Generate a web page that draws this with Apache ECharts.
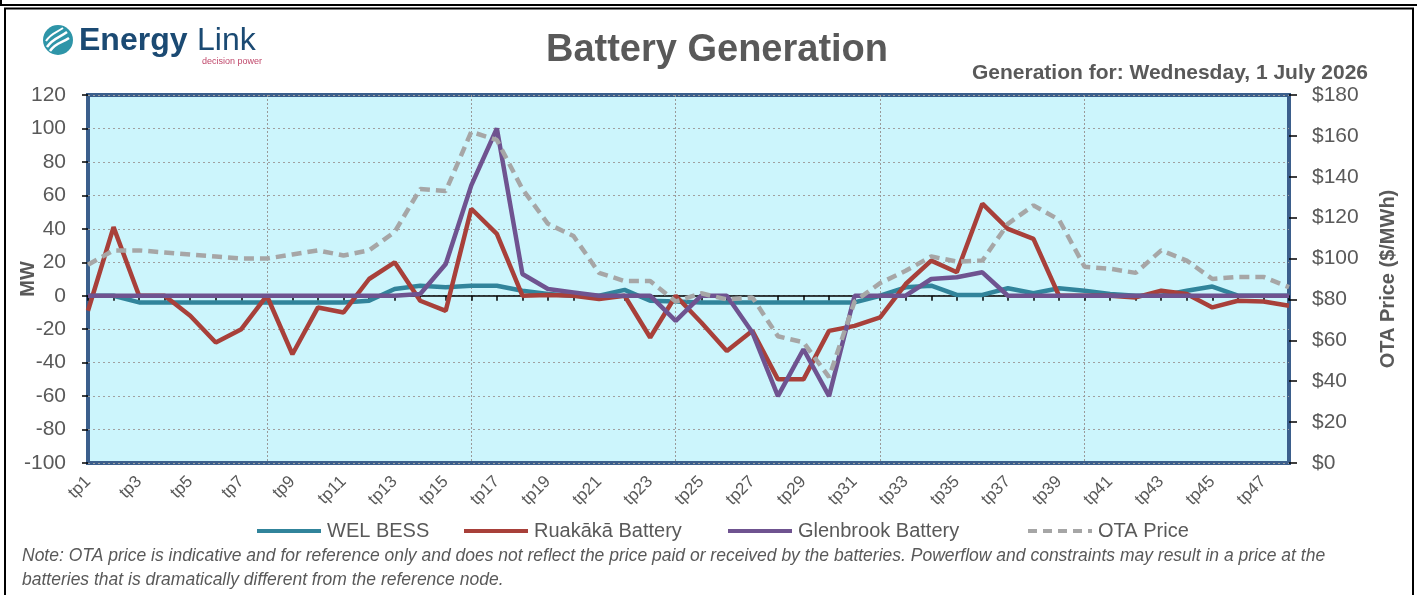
<!DOCTYPE html>
<html>
<head>
<meta charset="utf-8">
<script src="https://cdn.jsdelivr.net/npm/echarts@6/dist/echarts.min.js"></script>
<style>
html,body{margin:0;padding:0;background:#fff;}
#chart{width:1417px;height:595px;}
</style>
</head>
<body>
<div id="chart"></div>
<script>
var categories = ['tp1','tp2','tp3','tp4','tp5','tp6','tp7','tp8','tp9','tp10','tp11','tp12','tp13','tp14','tp15','tp16','tp17','tp18','tp19','tp20','tp21','tp22','tp23','tp24','tp25','tp26','tp27','tp28','tp29','tp30','tp31','tp32','tp33','tp34','tp35','tp36','tp37','tp38','tp39','tp40','tp41','tp42','tp43','tp44','tp45','tp46','tp47','tp48'];

var welBess = [0,0,-4,-4,-4,-4,-4,-4,-4,-4,-4,-3,4,6,5,6,6,3,1,0,0,3.5,-3,-3.5,-4,-4,-4,-4,-4,-4,-4,0,5,6,0.5,0.5,4.5,1.5,4.5,3,1,0,0,3,5.5,0,0,0];

var ruakaka = [-9,41,0,0,-12,-28,-20,0,-35,-7,-10,10,20,-3,-9,52,37,0,0.5,0,-2,0,-25,0,-16,-33,-21,-50,-50,-21,-18,-13,7,21,14,55,40,34,0,0,0,-1,3,1,-7,-3,-3.5,-6];

var glenbrook = [0,0,0,0,0,0,0,0,0,0,0,0,0,1,19,66,100,13,4,2,0,0,0,-15,0,0,-22,-60,-32,-60,0,0,0,10,11,14,0,0,0,0,0,0,0,0,0,0,0,0];

var otaPrice = [97,104,104,103,102,101,100,100,102,104,101.5,104,113,134,133,162,158,134,117,111,93,89,89,79,83,80,81,62,59,42,79,88,94,101,98.5,99,117,126,119,96,95,93,104,99,90,91,91,86];

var seriesNames = ['WEL BESS','Ruakākā Battery','Glenbrook Battery','OTA Price'];
var titleText = 'Battery Generation';
var subtitleText = 'Generation for: Wednesday, 1 July 2026';
var noteLine1 = 'Note: OTA price is indicative and for reference only and does not reflect the price paid or received by the batteries. Powerflow and constraints may result in a price at the';
var noteLine2 = 'batteries that is dramatically different from the reference node.';

var FONT = '"Liberation Sans", Arial, sans-serif';
var GRAY = '#595959';
var SOLID_ICON = 'path://M0,0H64V4H0Z';
var DASH_ICON = 'path://M0,0H9V4H0Z M15,0H24V4H15Z M30,0H39V4H30Z M45,0H54V4H45Z M60,0H64V4H60Z';
var legendLefts = [252, 459, 723, 1023];
var legendIcons = [SOLID_ICON, SOLID_ICON, SOLID_ICON, DASH_ICON];

var chart = echarts.init(document.getElementById('chart'), null, {renderer:'canvas'});

var legends = seriesNames.map(function (n, i) {
  return {
    left: legendLefts[i], top: 516,
    itemWidth: 64, itemHeight: 4,
    textStyle: { fontFamily: FONT, fontSize: 20, color: GRAY, padding: [0,0,0,1] },
    data: [{ name: n, icon: legendIcons[i] }]
  };
});

var option = {
  backgroundColor: '#ffffff',
  animation: false,
  grid: {
    left: 88, right: 128, top: 95, bottom: 132,
    containLabel: false, outerBoundsMode: 'none',
    show: true, backgroundColor: '#CCF5FC', borderColor: '#3B5F8C', borderWidth: 4, z: 0
  },
  legend: legends,
  xAxis: [
    {
      type: 'category', data: categories, boundaryGap: false, position: 'bottom',
      axisLine: { show: false, onZero: false },
      axisTick: { show: false },
      axisLabel: { interval: 1, rotate: 45, margin: 16, fontFamily: FONT, fontSize: 17, color: GRAY },
      splitLine: { show: true, interval: function (i) { return i % 8 === 7 && i < 47; },
        lineStyle: { color: '#999999', type: [2,2], width: 1 } }
    },
    {
      type: 'category', data: categories, boundaryGap: false, position: 'bottom',
      axisLine: { show: true, onZero: true, onZeroAxisIndex: 0, lineStyle: { color: '#000000', width: 1.5 } },
      axisTick: { show: true, interval: 0, length: 5, lineStyle: { color: '#000000', width: 1.5 } },
      axisLabel: { show: false },
      splitLine: { show: false }
    }
  ],
  yAxis: [
    {
      type: 'value', min: -100, max: 120, interval: 20, position: 'left',
      name: 'MW', nameLocation: 'middle', nameGap: 50, nameRotate: 90, nameMoveOverlap: false,
      nameTextStyle: { fontFamily: FONT, fontSize: 20, fontWeight: 'bold', color: GRAY },
      axisLine: { show: false },
      axisTick: { show: true, length: 6, lineStyle: { color: '#000000', width: 1.5 } },
      axisLabel: { margin: 22, fontFamily: FONT, fontSize: 21, color: GRAY },
      splitLine: { show: true, lineStyle: { color: '#A0A0A0', type: [2,3], width: 1 } }
    },
    {
      type: 'value', min: 0, max: 180, interval: 20, position: 'right',
      name: 'OTA Price ($/MWh)', nameLocation: 'middle', nameGap: 89, nameRotate: 90, nameMoveOverlap: false,
      nameTextStyle: { fontFamily: FONT, fontSize: 20, fontWeight: 'bold', color: GRAY },
      axisLine: { show: false },
      axisTick: { show: true, length: 8, lineStyle: { color: '#000000', width: 1.5 } },
      axisLabel: { margin: 23, fontFamily: FONT, fontSize: 21, color: GRAY,
        formatter: function (v) { return '$' + v; } },
      splitLine: { show: false }
    }
  ],
  series: [
    { name: seriesNames[0], type: 'line', data: welBess, xAxisIndex: 0, yAxisIndex: 0, symbol: 'none',
      color: '#31849B', lineStyle: { color: '#31849B', width: 4.5 }, z: 3 },
    { name: seriesNames[1], type: 'line', data: ruakaka, xAxisIndex: 0, yAxisIndex: 0, symbol: 'none',
      color: '#A8403A', lineStyle: { color: '#A8403A', width: 4.5 }, z: 4 },
    { name: seriesNames[2], type: 'line', data: glenbrook, xAxisIndex: 0, yAxisIndex: 0, symbol: 'none',
      color: '#6F5390', lineStyle: { color: '#6F5390', width: 4.5 }, z: 5 },
    { name: seriesNames[3], type: 'line', data: otaPrice, xAxisIndex: 0, yAxisIndex: 1, symbol: 'none',
      color: '#A6A6A6', lineStyle: { color: '#A6A6A6', width: 4.5, type: [10,6] }, z: 6 }
  ],
  graphic: [
    { type: 'line', shape: { x1: 0, y1: 5, x2: 1417, y2: 5 }, style: { stroke: '#000', lineWidth: 2 } },
    { type: 'line', shape: { x1: 1, y1: 0, x2: 1, y2: 5 }, style: { stroke: '#000', lineWidth: 2 } },
    { type: 'rect', shape: { x: 5, y: 8.5, width: 1408, height: 600 }, style: { fill: 'none', stroke: '#000', lineWidth: 2 } },
    { type: 'circle', shape: { cx: 58, cy: 40, r: 15 }, style: { fill: '#2E95A8' } },
    { type: 'bezierCurve', shape: { x1: 47, y1: 47, cpx1: 53, cpy1: 38, x2: 67, y2: 32, cpx2: 59, cpy2: 38 }, style: { stroke: '#fff', lineWidth: 2.5, fill: 'none' } },
    { type: 'bezierCurve', shape: { x1: 50, y1: 51, cpx1: 56, cpy1: 42, x2: 69, y2: 38, cpx2: 62, cpy2: 43 }, style: { stroke: '#fff', lineWidth: 2.5, fill: 'none' } },
    { type: 'bezierCurve', shape: { x1: 46, y1: 41, cpx1: 51, cpy1: 33, x2: 63, y2: 28, cpx2: 56, cpy2: 33 }, style: { stroke: '#fff', lineWidth: 2, fill: 'none' } },
    { type: 'text', left: 79, top: 25, style: { text: 'Energy', font: 'bold 32px ' + FONT, fill: '#1B4A73' } },
    { type: 'text', left: 197, top: 25, style: { text: 'Link', font: '32px ' + FONT, fill: '#1B4A73' } },
    { type: 'text', right: 1417 - 262, top: 57, style: { text: 'decision power', font: '9px ' + FONT, fill: '#C0486B' } },
    { type: 'text', x: 717, y: 51, style: { text: titleText, font: 'bold 38px ' + FONT, fill: GRAY, textAlign: 'center', textVerticalAlign: 'middle' } },
    { type: 'text', x: 1368, y: 73, style: { text: subtitleText, font: 'bold 21px ' + FONT, fill: GRAY, textAlign: 'right', textVerticalAlign: 'middle' } },
    { type: 'text', x: 22, y: 556, style: { text: noteLine1, font: 'italic 17.5px ' + FONT, fill: GRAY, textAlign: 'left', textVerticalAlign: 'middle' } },
    { type: 'text', x: 22, y: 580, style: { text: noteLine2, font: 'italic 17.5px ' + FONT, fill: GRAY, textAlign: 'left', textVerticalAlign: 'middle' } }
  ]
};
chart.setOption(option);
</script>
</body>
</html>
